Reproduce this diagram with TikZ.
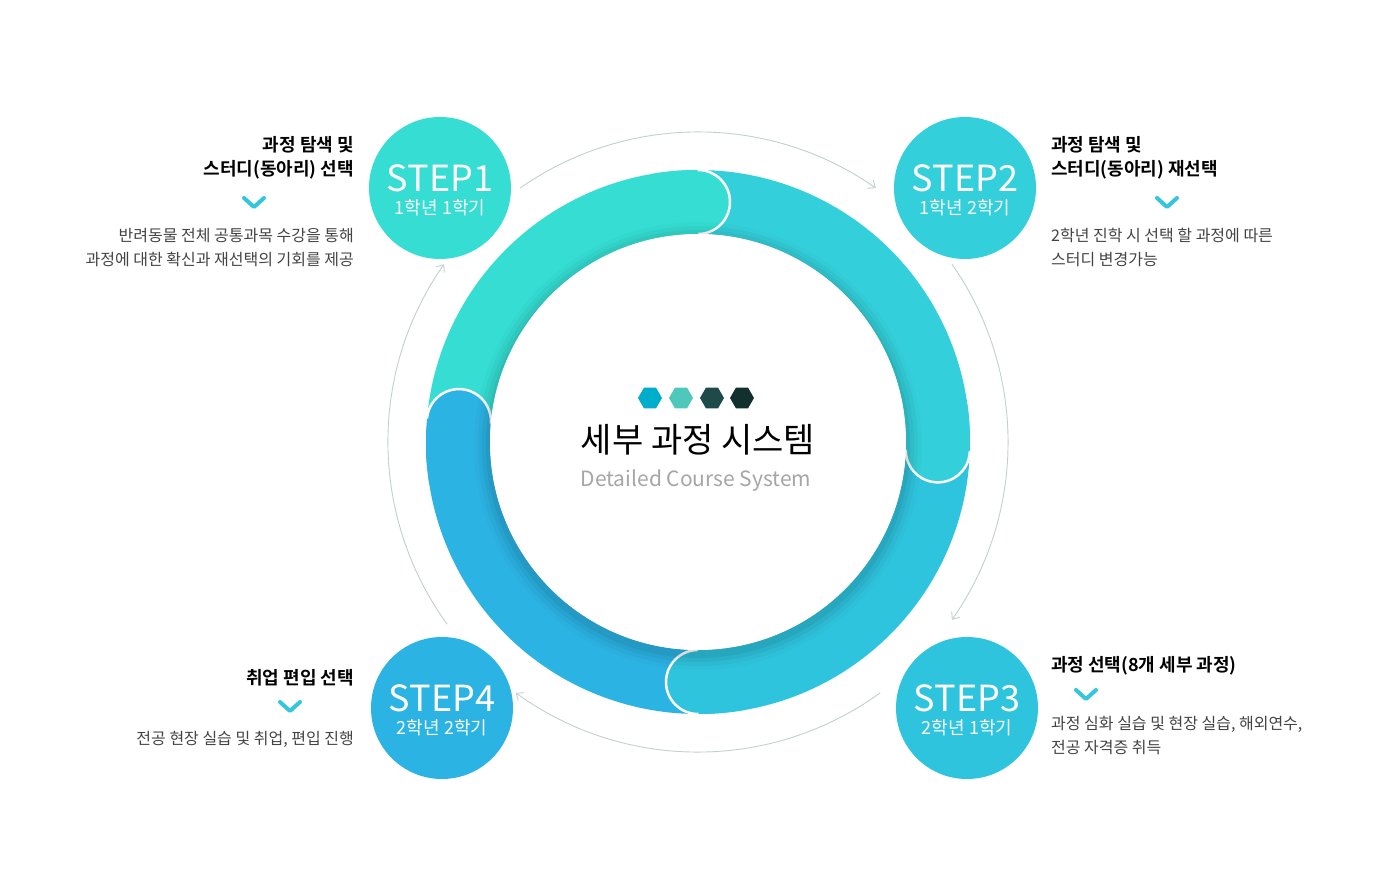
\documentclass[tikz,border=0pt]{standalone}
\usepackage{fontspec}
\setmainfont{Noto Sans CJK KR}
\newfontfamily\krbold{Noto Sans CJK KR Bold}
\usetikzlibrary{calc,arrows.meta,shapes.geometric}
\definecolor{segA}{HTML}{35DDD3}
\definecolor{segB}{HTML}{33D0DB}
\definecolor{segC}{HTML}{2FC4DE}
\definecolor{segD}{HTML}{2BB3E3}
\definecolor{arcgray}{HTML}{C4CFCF}
\definecolor{chev}{HTML}{33C6DC}
\definecolor{desc}{HTML}{444444}
\tikzset{
  stepdisc/.style={circle,minimum size=142pt,inner sep=0pt},
  steplbl/.style={text=white,inner sep=0pt,font=\fontsize{36}{36}\selectfont},
  stepsub/.style={text=white,inner sep=0pt,font=\fontsize{18}{18}\selectfont},
  ttl/.style={font=\krbold\fontsize{18}{24}\selectfont,inner sep=0pt},
  dsc/.style={font=\fontsize{16}{24}\selectfont,text=desc,inner sep=0pt},
  guide/.style={arcgray,line width=0.9pt,-{Straight Barb[length=6pt,width=10pt]}},
  chevmark/.style={chev,line width=4pt,line cap=round,line join=round},
  hexa/.style={regular polygon,regular polygon sides=6,minimum size=24pt,inner sep=0pt},
}
\newcommand{\segarc}[3]{% colour, from, to
  \draw[#1,line width=64pt] (#2:240) arc[start angle=#2,end angle=#3,radius=240];
  \filldraw[fill=#1,draw=white,line width=2.5pt] (#3:240) circle (32);
  \draw[#1,line width=64pt] (#3+10:240) arc[start angle=#3+10,end angle=#3,radius=240];
}
\newcommand{\stepnode}[5]{% name, colour, position, label, term
  \node[stepdisc,fill=#2] (#1) at (#3) {};
  \node[steplbl] (#1l) at ($(#1)+(0,10)$) {#4};
  \node[stepsub] (#1s) at ($(#1)+(0,-20)$) {#5};
}
\begin{document}
\begin{tikzpicture}[x=1pt,y=1pt]
  \useasboundingbox[fill=white] (-698,-438) rectangle (702,442);
  % ring, last to first so each head lies on the next one
  \segarc{segD}{-90}{-185}
  \segarc{segC}{-2}{-90}
  \segarc{segB}{90}{-2}
  \segarc{segA}{175}{90}
  % head of the fourth part over the first
  \filldraw[fill=segD,draw=white,line width=2.5pt] (175:240) circle (32);
  \draw[segD,line width=64pt] (189:240) arc[start angle=189,end angle=175,radius=240];
  % shadow and centre
  \foreach \r/\o in {224/0.02,220/0.03,216/0.04,212/0.05}
    \fill[black,opacity=\o] (0,-4) circle (\r);
  \fill[white] (0,0) circle (208);
  \node[hexa,fill={rgb,255:red,0;green,174;blue,203}] (h1) at (-48,44) {};
  \node[hexa,fill={rgb,255:red,79;green,200;blue,188}] (h2) at (-17,44) {};
  \node[hexa,fill={rgb,255:red,30;green,74;blue,74}] (h3) at (14,44) {};
  \node[hexa,fill={rgb,255:red,18;green,48;blue,46}] (h4) at (44,44) {};
  \node[font=\fontsize{34}{40}\selectfont] (title) at (0,2) {세부 과정 시스템};
  \node[font=\fontsize{21}{26}\selectfont,text=black!35] (sub) at (-2,-39) {Detailed Course System};
  % outer guide arcs
  \draw[guide] (125:310) arc[start angle=125,end angle=55,radius=310];
  \draw[guide] (35:310) arc[start angle=35,end angle=-35,radius=310];
  \draw[guide] (-54:310) arc[start angle=-54,end angle=-126,radius=310];
  \draw[guide] (-144:310) arc[start angle=-144,end angle=-215,radius=310];
  % steps
  \stepnode{s1}{segA}{-258,254}{STEP1}{1학년 1학기}
  \stepnode{s2}{segB}{267,254}{STEP2}{1학년 2학기}
  \stepnode{s3}{segC}{269,-266}{STEP3}{2학년 1학기}
  \stepnode{s4}{segD}{-256,-266}{STEP4}{2학년 2학기}
  % texts of step 1
  \node[ttl,anchor=north east,align=right] (t1) at (-344,306) {과정 탐색 및\\스터디(동아리) 선택};
  \draw[chevmark] (-454,244) -- (-444,235) -- (-434,244);
  \node[dsc,anchor=north east,align=right] (d1) at (-344,214) {반려동물 전체 공통과목 수강을 통해\\과정에 대한 확신과 재선택의 기회를 제공};
  % texts of step 2
  \node[ttl,anchor=north west,align=left] (t2) at (353,306) {과정 탐색 및\\스터디(동아리) 재선택};
  \draw[chevmark] (459,244) -- (469,235) -- (479,244);
  \node[dsc,anchor=north west,align=left] (d2) at (353,214) {2학년 진학 시 선택 할 과정에 따른\\스터디 변경가능};
  % texts of step 3
  \node[ttl,anchor=west] (t3) at (353,-224) {과정 선택(8개 세부 과정)};
  \draw[chevmark] (378,-248) -- (388,-257) -- (398,-248);
  \node[dsc,anchor=north west,align=left] (d3) at (353,-274) {과정 심화 실습 및 현장 실습, 해외연수,\\전공 자격증 취득};
  % texts of step 4
  \node[ttl,anchor=east] (t4) at (-344,-236) {취업 편입 선택};
  \draw[chevmark] (-418,-260) -- (-408,-269) -- (-398,-260);
  \node[dsc,anchor=east] (d4) at (-344,-297) {전공 현장 실습 및 취업, 편입 진행};
\end{tikzpicture}
\end{document}
